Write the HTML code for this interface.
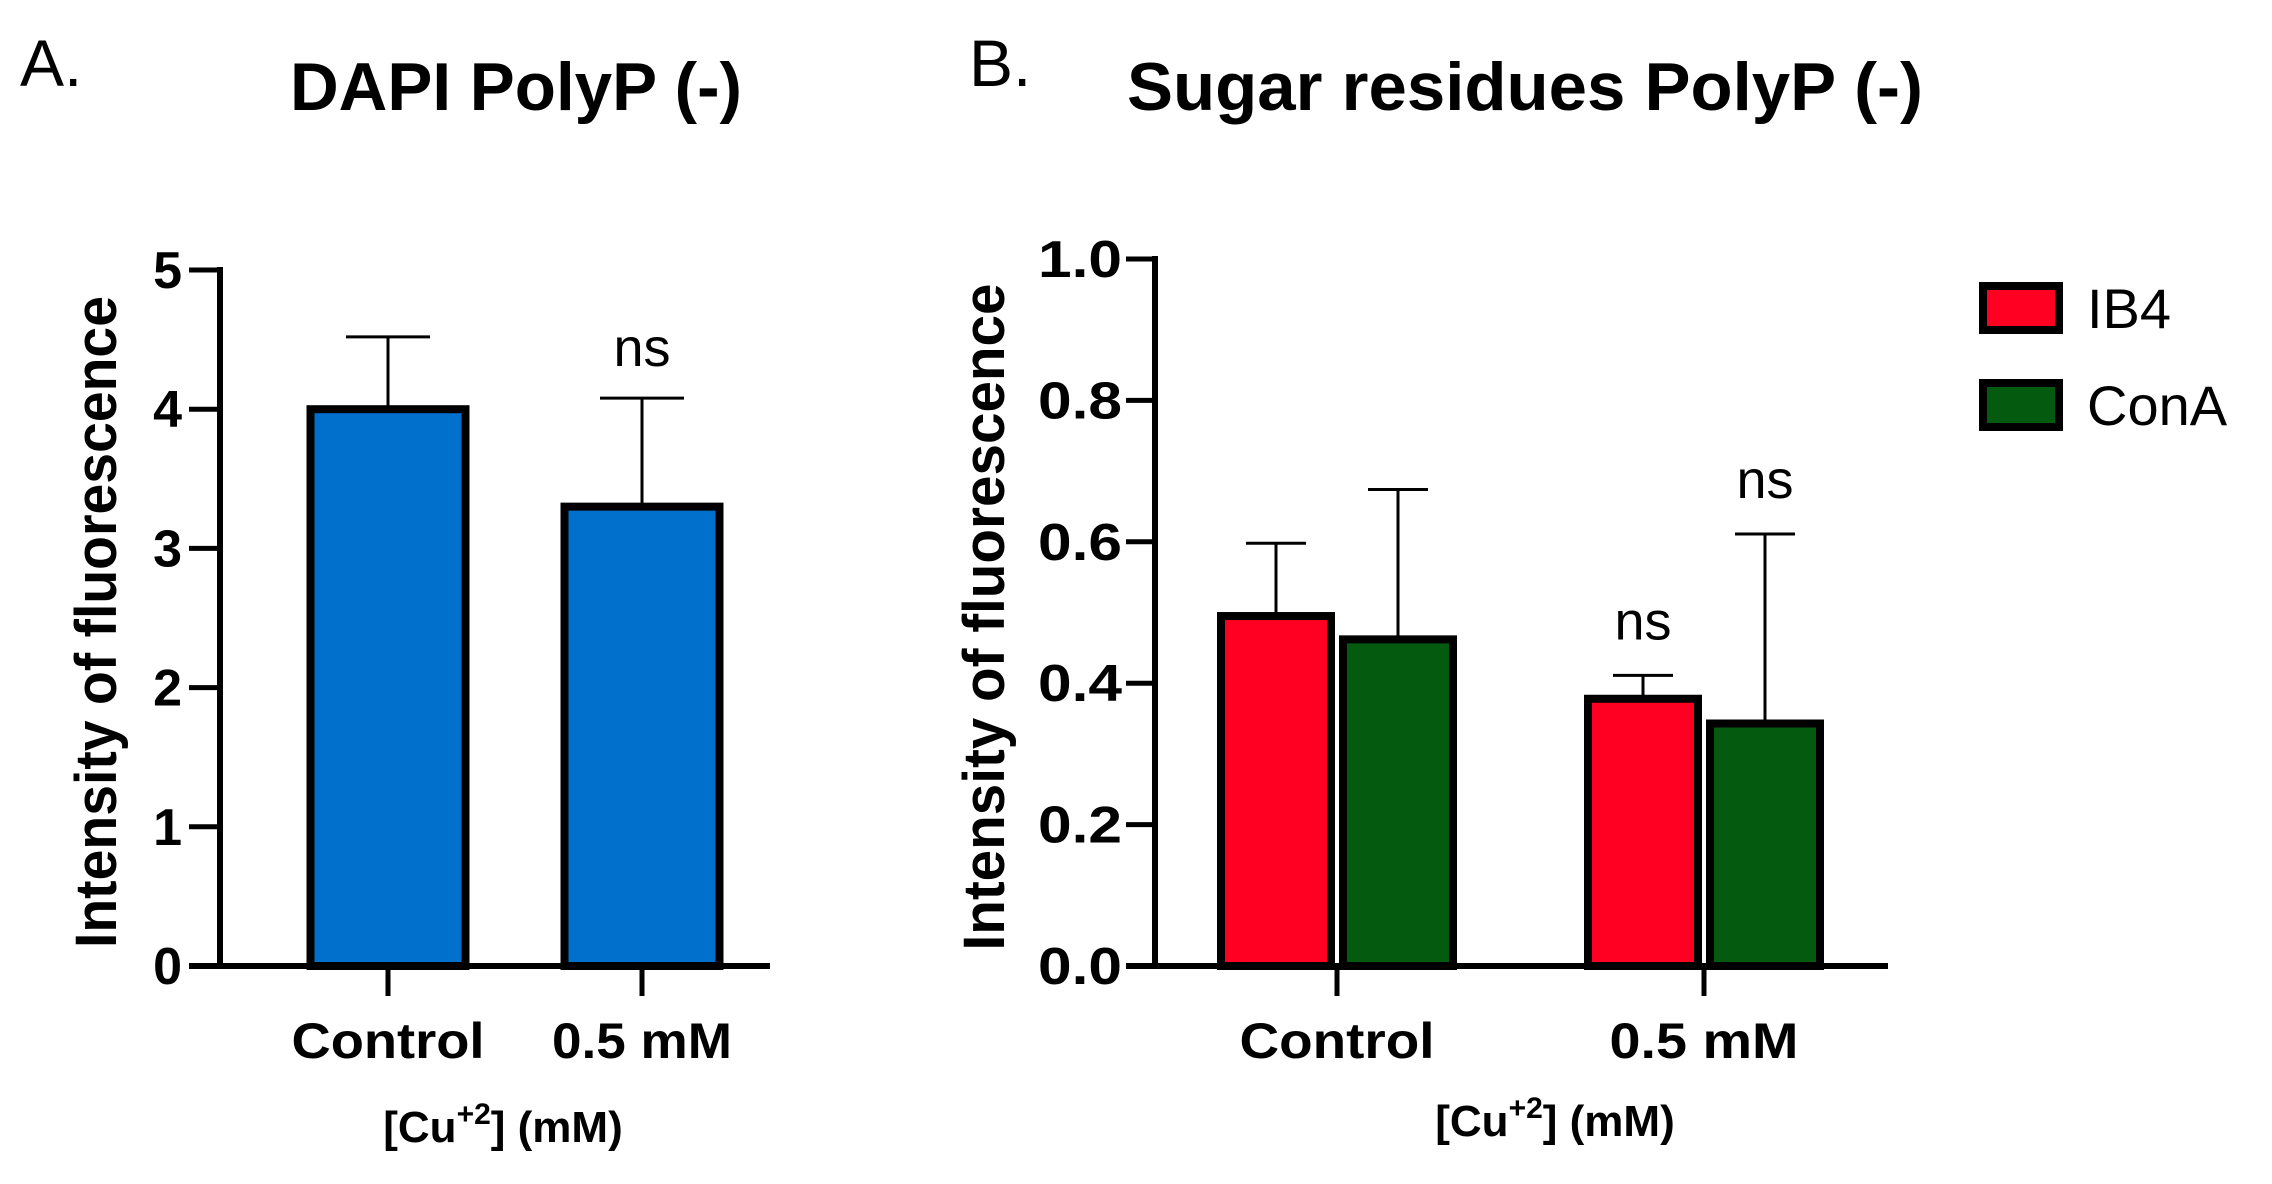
<!DOCTYPE html>
<html><head><meta charset="utf-8"><style>
html,body{margin:0;padding:0;background:#fff;}
svg{display:block;font-family:"Liberation Sans",Arial,sans-serif;}
</style></head><body>
<svg id="fig" width="2272" height="1184" viewBox="0 0 2272 1184">
<text x="20" y="86" font-size="66">A.</text>
<text x="516" y="110" font-size="68" font-weight="bold" text-anchor="middle" textLength="452" lengthAdjust="spacingAndGlyphs">DAPI PolyP (-)</text>
<text x="969" y="86" font-size="66">B.</text>
<text x="1525" y="110" font-size="68" font-weight="bold" text-anchor="middle" textLength="796" lengthAdjust="spacingAndGlyphs">Sugar residues PolyP (-)</text>
<g id="pa"></g>
<g id="pb"></g>
</svg>
<script>
// Panel A data
const aCategories = ["Control", "0.5 mM"];
const aValues = [4.0, 3.3];
const aErrors = [0.52, 0.78];
const aTicks = [0, 1, 2, 3, 4, 5];
const aSig = ["", "ns"];
// Panel B data
const bCategories = ["Control", "0.5 mM"];
const bSeries = ["IB4", "ConA"];
const bIB4 = [0.495, 0.378];
const bIB4Err = [0.103, 0.033];
const bConA = [0.462, 0.343];
const bConAErr = [0.212, 0.268];
const bTicks = [0.0, 0.2, 0.4, 0.6, 0.8, 1.0];
const bTickLabels = ["0.0", "0.2", "0.4", "0.6", "0.8", "1.0"];
const bSig = [["", ""], ["ns", "ns"]];

const NS = "http://www.w3.org/2000/svg";
function mk(parent, tag, attrs, text) {
  const e = document.createElementNS(NS, tag);
  for (const k in attrs) e.setAttribute(k, attrs[k]);
  if (text !== undefined) e.textContent = text;
  parent.appendChild(e);
  return e;
}

// ---------- Panel A ----------
(function(){
  const g = document.getElementById('pa');
  const y0 = 966, yTop = 270, vmax = 5;
  const y = v => y0 - (y0 - yTop) * v / vmax;
  const axX = 220, axEnd = 770;
  const centers = [388, 642], bw = 163;
  aCategories.forEach((c, i) => {
    const cx = centers[i];
    const top = y(aValues[i]);
    const e = y(aValues[i] + aErrors[i]);
    const el = mk(g, 'line', {x1: cx, x2: cx, y1: top, y2: e, stroke: '#000', 'stroke-width': 3});
    
    
    const cap = mk(g, 'line', {x1: cx - 42, x2: cx + 42, y1: e, y2: e, stroke: '#000', 'stroke-width': 3});
    
    
    const r = mk(g, 'rect', {x: cx - bw/2 + 4, y: top, width: bw - 8, height: y0 - top, fill: '#0070cc', stroke: '#000', 'stroke-width': 8});
    
    
    const lb = mk(g, 'text', {x: cx, y: 1058, 'font-size': 50, 'font-weight': 'bold', 'text-anchor': 'middle', textLength: i === 0 ? 193 : 180, lengthAdjust: 'spacingAndGlyphs'}, c);
    
    
    const tk = mk(g, 'line', {x1: cx, x2: cx, y1: y0, y2: 996, stroke: '#000', 'stroke-width': 5});
    
    
    if (aSig[i]) {
      const s = mk(g, 'text', {x: cx, y: e - 32, 'font-size': 54, 'text-anchor': 'middle'}, aSig[i]);
      
      
    }
  });
  aTicks.forEach((t, i) => {
    const tk = mk(g, 'line', {x1: 189, x2: axX, y1: y(t), y2: y(t), stroke: '#000', 'stroke-width': 5});
    
    
    const lb = mk(g, 'text', {x: 182, y: y(t) + 18, 'font-size': 52, 'font-weight': 'bold', 'text-anchor': 'end'}, String(t));
    
    
  });
  const ya = mk(g, 'line', {x1: axX, x2: axX, y1: yTop - 3, y2: y0 + 3, stroke: '#000', 'stroke-width': 6});
  
  
  const xa = mk(g, 'line', {x1: 189, x2: axEnd, y1: y0, y2: y0, stroke: '#000', 'stroke-width': 6});
  
  
  const yt = mk(g, 'text', {x: 0, y: 0, 'font-size': 58, 'font-weight': 'bold', 'text-anchor': 'middle', transform: 'translate(116,622) rotate(-90)', textLength: 652, lengthAdjust: 'spacingAndGlyphs'}, 'Intensity of fluorescence');
  
  
  const xt = mk(g, 'text', {x: 503, y: 1142, 'font-size': 44, 'font-weight': 'bold', 'text-anchor': 'middle'});
  xt.innerHTML = '[Cu<tspan dy="-18" font-size="30">+2</tspan><tspan dy="18">] (mM)</tspan>';
  
  
})();

// ---------- Panel B ----------
(function(){
  const g = document.getElementById('pb');
  const y0 = 966, yTop = 259, vmax = 1.0;
  const y = v => y0 - (y0 - yTop) * v / vmax;
  const axX = 1155, axEnd = 1888;
  const centers = [1337, 1704], bw = 118;
  const series = [[bIB4, bIB4Err, '#ff0022'], [bConA, bConAErr, '#045a0e']];
  bCategories.forEach((c, i) => {
    const cx = centers[i];
    series.forEach((s, j) => {
      const bx = j === 0 ? cx - bw - 2 : cx + 2;
      const mid = bx + bw / 2;
      const top = y(s[0][i]);
      const e = y(s[0][i] + s[1][i]);
      const el = mk(g, 'line', {x1: mid, x2: mid, y1: top, y2: e, stroke: '#000', 'stroke-width': 3});
      
      
      const cap = mk(g, 'line', {x1: mid - 30, x2: mid + 30, y1: e, y2: e, stroke: '#000', 'stroke-width': 3});
      
      
      const r = mk(g, 'rect', {x: bx + 4, y: top, width: bw - 8, height: y0 - top, fill: s[2], stroke: '#000', 'stroke-width': 8});
      
      
      if (bSig[i][j]) {
        const t = mk(g, 'text', {x: mid, y: e - 36, 'font-size': 54, 'text-anchor': 'middle'}, bSig[i][j]);
        
        
      }
    });
    const lb = mk(g, 'text', {x: cx, y: 1058, 'font-size': 50, 'font-weight': 'bold', 'text-anchor': 'middle', textLength: i === 0 ? 195 : 189, lengthAdjust: 'spacingAndGlyphs'}, c);
    
    
    const tk = mk(g, 'line', {x1: cx, x2: cx, y1: y0, y2: 996, stroke: '#000', 'stroke-width': 5});
    
    
  });
  bTicks.forEach((t, i) => {
    const tk = mk(g, 'line', {x1: 1126, x2: axX, y1: y(t), y2: y(t), stroke: '#000', 'stroke-width': 5});
    
    
    const lb = mk(g, 'text', {x: 1122, y: y(t) + 18, 'font-size': 52, 'font-weight': 'bold', 'text-anchor': 'end', textLength: 84, lengthAdjust: 'spacingAndGlyphs'}, bTickLabels[i]);
    
    
  });
  const ya = mk(g, 'line', {x1: axX, x2: axX, y1: yTop - 3, y2: y0 + 3, stroke: '#000', 'stroke-width': 6});
  
  
  const xa = mk(g, 'line', {x1: 1126, x2: axEnd, y1: y0, y2: y0, stroke: '#000', 'stroke-width': 6});
  
  
  const yt = mk(g, 'text', {x: 0, y: 0, 'font-size': 58, 'font-weight': 'bold', 'text-anchor': 'middle', transform: 'translate(1004,617) rotate(-90)', textLength: 667, lengthAdjust: 'spacingAndGlyphs'}, 'Intensity of fluorescence');
  
  
  const xt = mk(g, 'text', {x: 1555, y: 1136, 'font-size': 44, 'font-weight': 'bold', 'text-anchor': 'middle'});
  xt.innerHTML = '[Cu<tspan dy="-18" font-size="30">+2</tspan><tspan dy="18">] (mM)</tspan>';
  
  
  const legY = [308, 405];
  series.forEach((s, j) => {
    const r = mk(g, 'rect', {x: 1983, y: legY[j] - 22, width: 76, height: 44, fill: s[2], stroke: '#000', 'stroke-width': 8});
    
    
    const t = mk(g, 'text', {x: 2087, y: legY[j] + 20, 'font-size': 56}, bSeries[j]);
    
    
  });
})();
</script>
</body></html>
